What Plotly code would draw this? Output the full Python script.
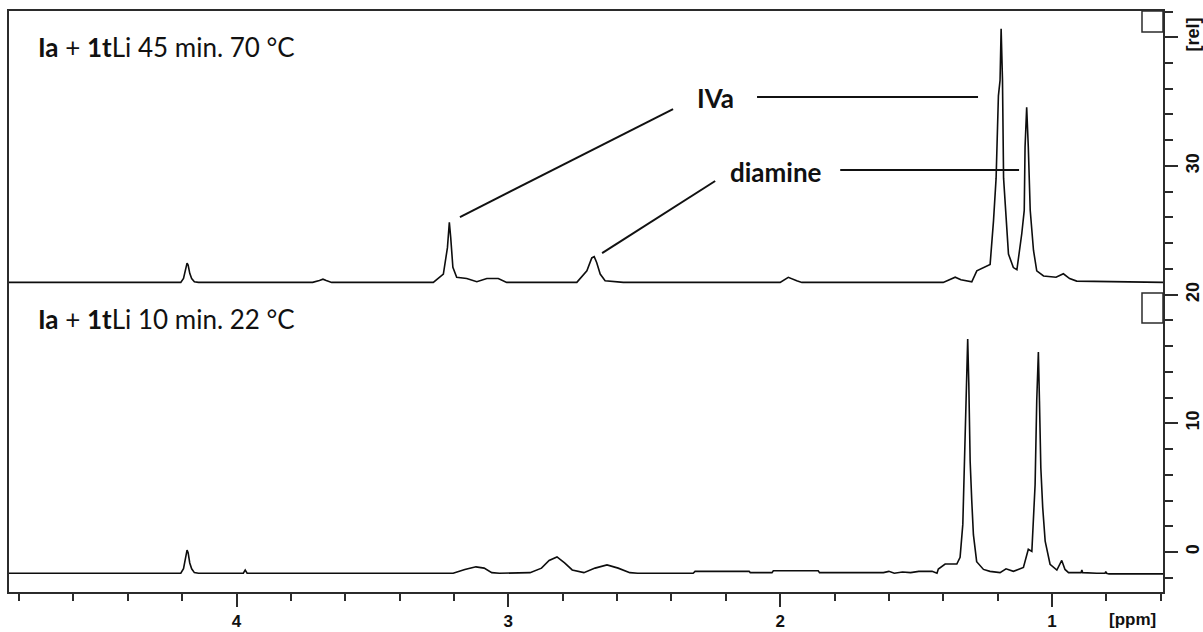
import plotly.graph_objects as go

# ---- 1H NMR spectra (chemical shift in ppm, intensity in rel. units above each baseline) ----
ppm_upper = [4.837, 4.25, 4.205, 4.195, 4.188, 4.182, 4.178, 4.172, 4.165, 4.155, 4.14,
             3.72, 3.695, 3.682, 3.67, 3.65,
             3.276, 3.239, 3.224, 3.217, 3.212, 3.204, 3.190, 3.153, 3.116, 3.079, 3.037, 3.006,
             2.748, 2.711, 2.693, 2.684, 2.675, 2.662, 2.644, 2.577,
             2.0, 1.970, 1.939, 1.92,
             1.40, 1.375, 1.356, 1.335, 1.295, 1.2765, 1.2275, 1.215, 1.2055, 1.197, 1.191,
             1.187, 1.182, 1.178, 1.169, 1.160, 1.142, 1.129, 1.111, 1.102, 1.099, 1.093,
             1.087, 1.080, 1.068, 1.056, 1.031, 0.985, 0.958, 0.935, 0.909, 0.756, 0.5915]
int_upper = [0, 0, 0, 0.3, 0.9, 1.5, 1.35, 0.7, 0.3, 0.05, 0,
             0, 0.15, 0.25, 0.15, 0,
             0, 0.65, 2.7, 4.66, 3.5, 1.17, 0.39, 0.3, 0.05, 0.3, 0.3, 0,
             0, 0.9, 1.9, 2.0, 1.55, 0.65, 0.13, 0,
             0, 0.39, 0.13, 0,
             0, 0.2, 0.4, 0.2, 0.05, 0.9, 1.4, 4.8, 8.1, 14.5, 15.7,
             19.7, 15.7, 8.1, 4.8, 2.2, 1.15, 0.98, 3.8, 5.6, 10.5, 13.6,
             10.5, 5.6, 2.5, 0.9, 0.5, 0.4, 0.67, 0.3, 0.1, 0.05, 0]

ppm_lower = [4.837, 4.22, 4.205, 4.195, 4.188, 4.182, 4.178, 4.172, 4.165, 4.155, 4.14,
             3.975, 3.968, 3.961,
             3.203, 3.19, 3.16, 3.119, 3.089, 3.061, 3.033,
             2.92, 2.878, 2.850, 2.821, 2.793, 2.765, 2.722,
             2.681, 2.637, 2.596, 2.553, 2.524,
             2.32, 2.313, 2.114, 2.11, 2.03, 2.025, 1.86, 1.855,
             1.62, 1.60, 1.58, 1.55, 1.52, 1.49, 1.441, 1.423,
             1.418, 1.393, 1.350, 1.338, 1.328, 1.323, 1.317, 1.313, 1.310, 1.306, 1.301,
             1.295, 1.289, 1.277, 1.252, 1.228, 1.191, 1.169, 1.142, 1.105,
             1.087, 1.074, 1.062, 1.056, 1.050, 1.046, 1.041, 1.034, 1.025, 1.007, 0.982,
             0.964, 0.952, 0.939, 0.893, 0.890, 0.887, 0.835, 0.805, 0.802, 0.799, 0.79, 0.5915]
int_lower = [0, 0, 0, 0.35, 1.1, 1.8, 1.6, 0.8, 0.35, 0.05, 0,
             0, 0.25, 0,
             0, 0.1, 0.3, 0.5, 0.4, 0.05, 0,
             0.05, 0.4, 1.0, 1.27, 0.8, 0.26, 0.05,
             0.4, 0.65, 0.4, 0.05, 0,
             0, 0.15, 0.15, 0.05, 0.05, 0.2, 0.2, 0.05,
             0.05, 0.15, 0.0, 0.1, 0.05, 0.15, 0.15, 0.0,
             0.33, 0.72, 0.72, 1.24, 3.8, 7.9, 14.7, 17.5, 18.2, 14.8, 8.7,
             5.6, 3.0, 0.9, 0.3, 0.15, 0.05, 0.35, 0.15, 0.45,
             1.87, 1.7, 6.9, 13.4, 17.2, 13.4, 8.2, 5.1, 2.5, 0.7, 0.25,
             1.0, 0.3, 0.05, 0.05, 0.25, 0.05, 0, 0.0, 0.12, 0.0, -0.05, -0.05]

# vertical stacking of the two spectra on the shared [rel] axis
offset_upper = 20.95
offset_lower = -1.655

title_upper = "<b>Ia</b> + <b>1t</b>Li 45 min. 70 °C"
title_lower = "<b>Ia</b> + <b>1t</b>Li 10 min. 22 °C"

x_ticks = [4, 3, 2, 1]
y_ticks = [0, 10, 20, 30, 40]
y_ticktext = ["0", "10", "20", "30", "[rel]"]

assert len(ppm_upper) == len(int_upper)
assert len(ppm_lower) == len(int_lower)

line_col = "#0d0d0d"
frame_col = "#2b2b2b"

fig = go.Figure()
fig.add_trace(go.Scatter(x=ppm_upper, y=[v + offset_upper for v in int_upper],
                         mode="lines", line=dict(color=line_col, width=1.6),
                         showlegend=False, hoverinfo="skip"))
fig.add_trace(go.Scatter(x=ppm_lower, y=[v + offset_lower for v in int_lower],
                         mode="lines", line=dict(color=line_col, width=1.6),
                         showlegend=False, hoverinfo="skip"))

tick_font = dict(family="Liberation Sans, Arial, sans-serif", size=17, color="#111", weight="bold")
ytick_font = dict(family="Liberation Sans, Arial, sans-serif", size=18, color="#111", weight="bold")

fig.update_layout(
    width=1203, height=632,
    margin=dict(l=9, r=40, t=11, b=40, autoexpand=False),
    paper_bgcolor="white", plot_bgcolor="white",
    xaxis=dict(range=[4.837, 0.5915], showgrid=False, zeroline=False,
               showline=True, linecolor=frame_col, linewidth=1.5, mirror=True,
               tickmode="array", tickvals=x_ticks, ticktext=[str(t) for t in x_ticks],
               ticks="outside", ticklen=13, tickwidth=1.5, tickcolor=frame_col,
               minor=dict(tickmode="linear", tick0=0, dtick=0.2, ticks="outside",
                          ticklen=7, tickwidth=1.5, tickcolor=frame_col, showgrid=False),
               tickfont=tick_font, ticklabelstandoff=0),
    yaxis=dict(range=[-3.11, 42.04], side="right", showgrid=False, zeroline=False,
               showline=True, linecolor=frame_col, linewidth=1.5, mirror=True,
               tickmode="array", tickvals=y_ticks, ticktext=y_ticktext,
               ticks="outside", ticklen=13, tickwidth=1.5, tickcolor=frame_col,
               minor=dict(tickmode="linear", tick0=0, dtick=2, ticks="outside",
                          ticklen=8, tickwidth=1.5, tickcolor=frame_col, showgrid=False),
               tickangle=-90, tickfont=ytick_font, ticklabelstandoff=0),
)

label_font = dict(family="Lato, Carlito, sans-serif", size=26, color="#111")
fig.add_annotation(xref="paper", yref="paper", x=0.0234, y=0.938, xanchor="left", yanchor="middle",
                   text=title_upper, showarrow=False, font=label_font)
fig.add_annotation(xref="paper", yref="paper", x=0.0234, y=0.470, xanchor="left", yanchor="middle",
                   text=title_lower, showarrow=False, font=label_font)
fig.add_annotation(xref="paper", yref="paper", x=0.974, y=-0.047, xanchor="center", yanchor="middle",
                   text="[ppm]", showarrow=False, font=tick_font)

# peak assignments with leader lines
peak_font = dict(family="Lato, Carlito, sans-serif", size=26, color="#111", weight="bold")
fig.add_annotation(xref="paper", yref="paper", x=0.6118, y=0.850, xanchor="center", yanchor="middle",
                   text="IVa", showarrow=False, font=peak_font)
fig.add_annotation(xref="paper", yref="paper", x=0.623, y=0.7229, xanchor="left", yanchor="middle",
                   text="diamine", showarrow=False, font=peak_font)

iva_ppm, iva_top = 3.217, 4.66 + offset_upper
dia_ppm, dia_top = 2.684, 2.0 + offset_upper
leader = dict(color="#111", width=2)
fig.add_shape(type="line", xref="x", yref="y", x0=2.085, y0=35.35, x1=1.272, y1=35.35, line=leader)
fig.add_shape(type="line", xref="x", yref="y", x0=2.394, y0=34.42,
              x1=iva_ppm - 0.039, y1=iva_top + 0.42, line=leader)
fig.add_shape(type="line", xref="x", yref="y", x0=1.779, y0=29.68, x1=1.121, y1=29.68, line=leader)
fig.add_shape(type="line", xref="x", yref="y", x0=2.239, y0=28.83,
              x1=dia_ppm - 0.029, y1=dia_top + 0.28, line=leader)

# spectrum markers in the top-right corner of each trace row
box = dict(color=frame_col, width=1.5)
fig.add_shape(type="rect", xref="paper", yref="paper", x0=0.9818, x1=1.0, y0=0.9639, y1=1.0,
              line=box, fillcolor="rgba(0,0,0,0)")
fig.add_shape(type="rect", xref="paper", yref="paper", x0=0.9818, x1=1.0, y0=0.463, y1=0.5146,
              line=box, fillcolor="rgba(0,0,0,0)")

fig.write_html("out.html")
